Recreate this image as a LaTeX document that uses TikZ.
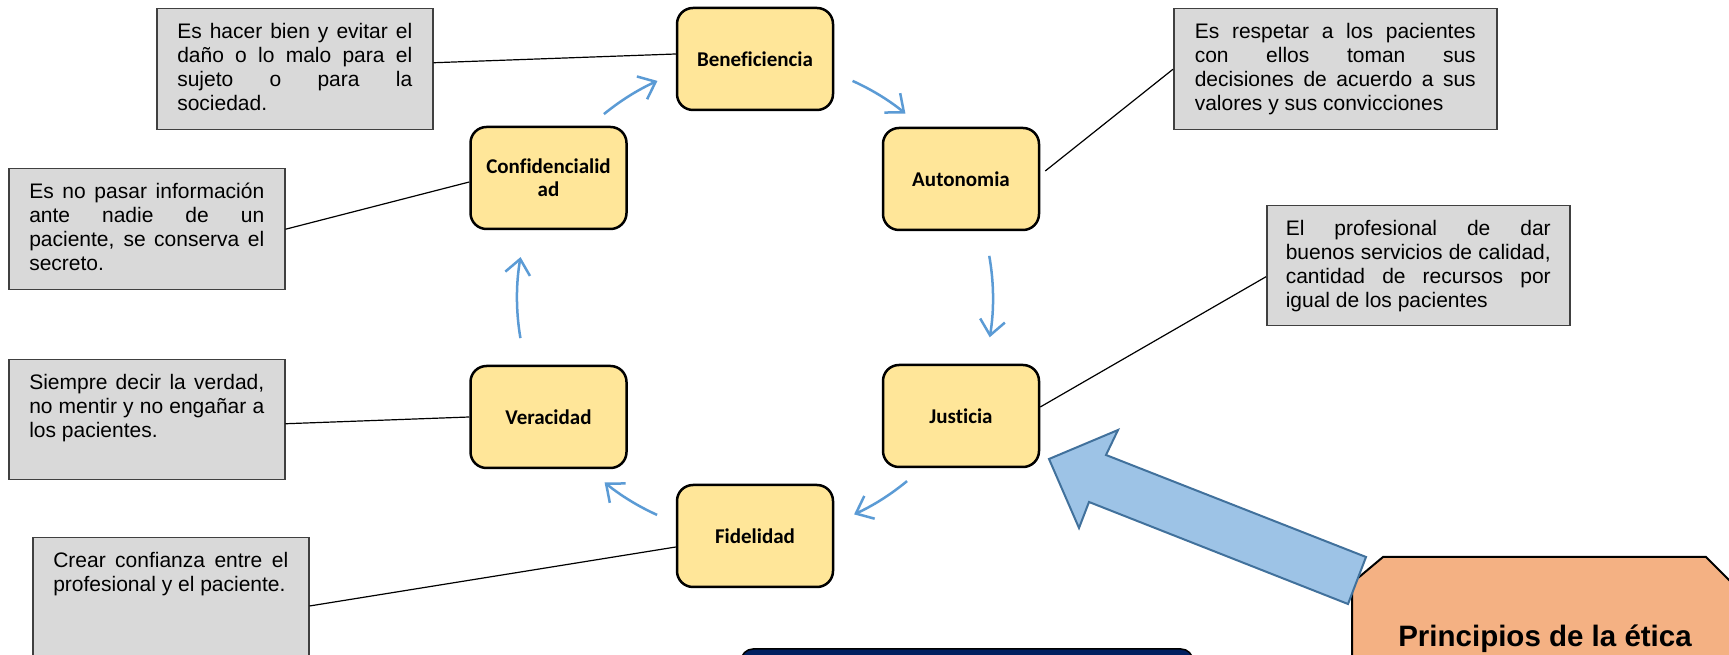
\documentclass[tikz,border=0pt]{standalone}
\usepackage{fontspec}
\setmainfont{Liberation Sans}
\newfontfamily\carlito[Ligatures=NoCommon]{Carlito}
\usetikzlibrary{arrows.meta}
\definecolor{yfill}{HTML}{FFE699}
\definecolor{gfill}{HTML}{D9D9D9}
\definecolor{gline}{HTML}{404040}
\definecolor{cycblue}{HTML}{5B9BD5}
\definecolor{bigfill}{HTML}{9DC3E6}
\definecolor{bigline}{HTML}{41719C}
\definecolor{peach}{HTML}{F4B183}
\definecolor{navyfill}{HTML}{002060}
\newcommand{\gtext}[3]{\parbox[c][#2][t]{#1}{\fontsize{21pt}{24.1pt}\selectfont\hyphenpenalty=10000\tolerance=9999\strut #3}}
\tikzset{
  ynode/.style={draw=black, line width=2.5pt, fill=yfill, rounded corners=16pt,
    minimum width=156pt, minimum height=102pt, inner sep=0pt, align=center,
    font={\carlito\bfseries\fontsize{21pt}{23pt}\selectfont}},
  gbox/.style={draw=gline, line width=1.5pt, fill=gfill, rectangle,
    inner ysep=13pt, inner xsep=20.5pt, anchor=north west},
  conn/.style={draw=black, line width=1.2pt},
  cycarrow/.style={draw=cycblue, line width=2.5pt, -{Straight Barb[length=15pt,width=25pt]}},
}
\begin{document}
\begin{tikzpicture}[x=1pt,y=1pt]
\useasboundingbox (0,0) rectangle (1729,655);
\clip (0,0) rectangle (1729,655);
\fill[white] (0,0) rectangle (1729,655);

% yellow principle nodes
\node[ynode] (ben)  at (755,596)   {Beneficiencia};
\node[ynode] (conf) at (548.5,477) {Confidencialid\\ad};
\node[ynode] (aut)  at (961,476)   {Autonomia};
\node[ynode] (ver)  at (548.5,238) {Veracidad};
\node[ynode] (jus)  at (961,239)   {Justicia};
\node[ynode] (fid)  at (755,119)   {Fidelidad};

% gray description boxes
\node[gbox] (gA) at (156,647) {\gtext{235pt}{95pt}{Es hacer bien y evitar el\linebreak daño o lo malo para el\linebreak sujeto o para la\linebreak sociedad.}};
\node[gbox] (gB) at (8,487) {\gtext{235pt}{95pt}{Es no pasar información\linebreak ante nadie de un\linebreak paciente, se conserva el\linebreak secreto.}};
\node[gbox, inner xsep=21pt] (gC) at (1173,647) {\gtext{281pt}{95pt}{Es respetar a los pacientes\linebreak con ellos toman sus\linebreak decisiones de acuerdo a sus\linebreak valores y sus convicciones}};
\node[gbox, inner xsep=19pt] (gD) at (1266,450) {\gtext{265pt}{94pt}{El profesional de dar\linebreak buenos servicios de calidad,\linebreak cantidad de recursos por\linebreak igual de los pacientes}};
\node[gbox] (gE) at (8,296) {\gtext{235pt}{94pt}{Siempre decir la verdad,\linebreak no mentir y no engañar a\linebreak los pacientes.}};
\node[gbox] (gF) at (32,118) {\gtext{235pt}{150pt}{Crear confianza entre el\linebreak profesional y el paciente.}};

% connectors
\draw[conn] ([yshift=6.5pt]gA.east) -- ([yshift=5pt]ben.west);
\draw[conn] (gB.east) -- ([yshift=-4pt]conf.west);
\draw[conn] ([xshift=5pt,yshift=8pt]aut.east) -- (gC.west);
\draw[conn] ([yshift=9pt]jus.east) -- ([yshift=-11pt]gD.west);
\draw[conn] ([yshift=-4pt]gE.east) -- (ver.west);
\draw[conn] ([yshift=-69pt]gF.north east) -- ([yshift=-11pt]fid.west);

% cycle arrows
\coordinate (cyc) at (755,357);
\draw[cycarrow] ([shift={(129.4:238)}]cyc) arc[start angle=129.4, end angle=114.2, radius=238pt];
\draw[cycarrow] ([shift={(65.8:238)}]cyc) arc[start angle=65.8, end angle=50.8, radius=238pt];
\draw[cycarrow] ([shift={(10.2:238)}]cyc) arc[start angle=10.2, end angle=-9.5, radius=238pt];
\draw[cycarrow] ([shift={(-50.3:238)}]cyc) arc[start angle=-50.3, end angle=-65.4, radius=238pt];
\draw[cycarrow] ([shift={(-114.3:238)}]cyc) arc[start angle=-114.3, end angle=-129.2, radius=238pt];
\draw[cycarrow] ([shift={(189.7:238)}]cyc) arc[start angle=189.7, end angle=170.1, radius=238pt];

% navy box at bottom
\draw[fill=navyfill, draw=black, line width=1.5pt, rounded corners=12pt] (741,-60) rectangle (1193,6);

% Principios box
\draw[fill=peach, draw=black, line width=2pt, line join=miter] (1352,-60) -- (1352,72) -- (1383,98) -- (1706,98) -- (1738,66) -- (1738,-60) -- cycle;
\node[font={\bfseries\fontsize{29.5pt}{34pt}\selectfont}, anchor=base, inner sep=0pt] (princ) at (1545,8) {Principios de la ética};

% big block arrow
\draw[fill=bigfill, draw=bigline, line width=2pt, line join=miter]
  (1049,196) -- (1118,225) -- (1106,200) -- (1366,98) -- (1348,51) -- (1089,153) -- (1079,127) -- cycle;
\end{tikzpicture}
\end{document}
